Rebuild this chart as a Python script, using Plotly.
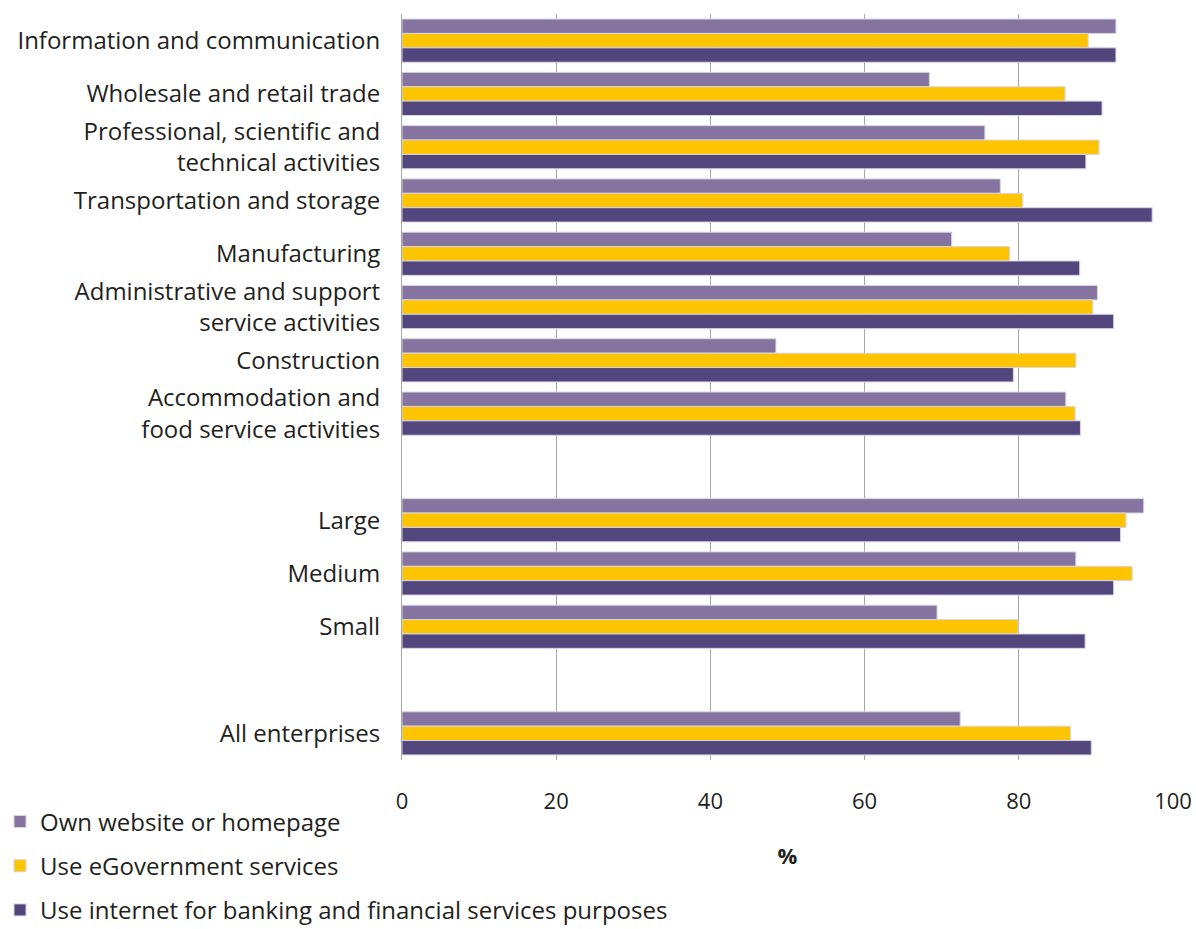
import plotly.graph_objects as go

# Row labels, top to bottom; blank strings are spacer rows between blocks
categories = [
    "Information and communication",
    "Wholesale and retail trade",
    "Professional, scientific and<br>technical activities",
    "Transportation and storage",
    "Manufacturing",
    "Administrative and support<br>service activities",
    "Construction",
    "Accommodation and<br>food service activities",
    " ",
    "Large",
    "Medium",
    "Small",
    "  ",
    "All enterprises",
]

own_website = [92.6, 68.4, 75.6, 77.6, 71.3, 90.2, 48.5, 86.1, None, 96.2, 87.4, 69.4, None, 72.4]
egovernment = [89.0, 86.0, 90.4, 80.5, 78.8, 89.6, 87.4, 87.3, None, 93.9, 94.7, 79.9, None, 86.7]
banking = [92.6, 90.8, 88.7, 97.3, 87.9, 92.3, 79.3, 88.0, None, 93.2, 92.3, 88.6, None, 89.4]

series_names = [
    "Own website or homepage",
    "Use eGovernment services",
    "Use internet for banking and financial services purposes",
]
series_colors = ["#85749F", "#FCC500", "#52477D"]

x_ticks = [0, 20, 40, 60, 80, 100]

fig = go.Figure()
for name, vals, col in zip(series_names, [own_website, egovernment, banking], series_colors):
    fig.add_trace(go.Bar(
        y=categories, x=vals, name=name, orientation="h",
        marker=dict(color=col, line=dict(color="#D9D3E6", width=1)),
        legendgroup=name,
    ))

font_family = "Open Sans, Noto Sans, sans-serif"
text_color = "#231F20"

fig.update_layout(
    width=1196, height=929,
    margin=dict(l=402, r=23, t=14, b=169, autoexpand=False),
    paper_bgcolor="white", plot_bgcolor="white",
    barmode="group", bargap=0.19, bargroupgap=0,
    font=dict(family=font_family, size=23, color=text_color),
    showlegend=True,
    legend=dict(
        orientation="v", traceorder="grouped",
        xref="container", yref="container",
        x=0, y=0.1395, xanchor="left", yanchor="top",
        font=dict(size=24, color=text_color),
        tracegroupgap=10, itemwidth=30,
        bgcolor="rgba(0,0,0,0)",
    ),
    xaxis=dict(
        range=[0, 100], tickvals=x_ticks, ticktext=[str(v) for v in x_ticks],
        showgrid=True, gridcolor="#A6A6A6", gridwidth=1,
        zeroline=False, showline=False, ticks="",
        tickfont=dict(size=22, color=text_color),
        ticklabelstandoff=26,
        title=dict(text="<b>%</b>", font=dict(size=22, color=text_color), standoff=34),
    ),
    yaxis=dict(
        type="category", categoryorder="array", categoryarray=categories,
        autorange="reversed", showgrid=False, zeroline=False,
        showline=True, linecolor="#A6A6A6", linewidth=1, ticks="",
        tickfont=dict(size=24, color=text_color),
        ticklabelstandoff=16,
    ),
)

fig.write_html("out.html")
